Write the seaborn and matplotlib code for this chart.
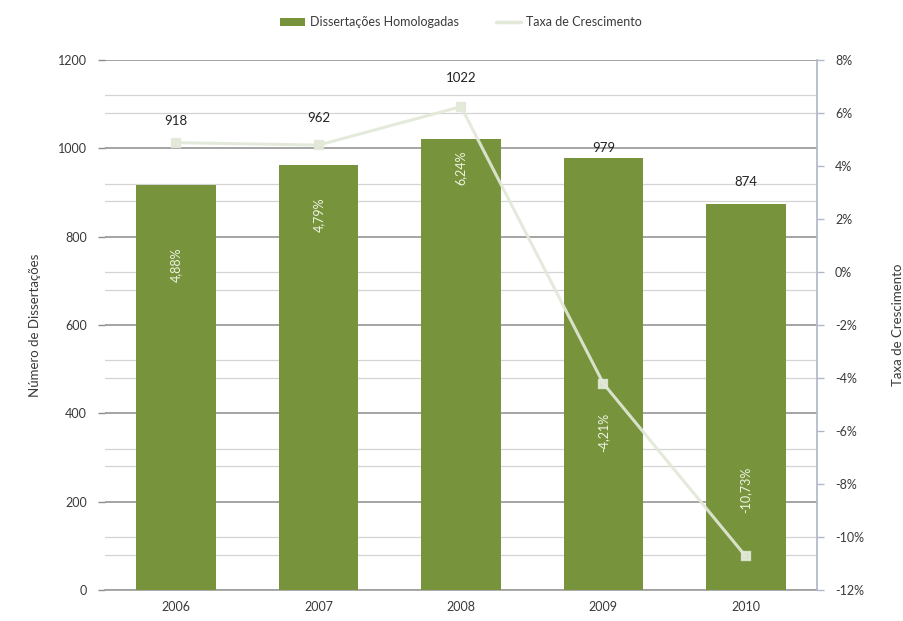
import matplotlib
matplotlib.use("Agg")
import matplotlib.pyplot as plt
import seaborn as sns
import pandas as pd
from matplotlib.patches import Patch
from matplotlib.lines import Line2D
from matplotlib.ticker import FixedLocator, FuncFormatter

# ---- data ----
years = ["2006", "2007", "2008", "2009", "2010"]
dissertacoes = [918, 962, 1022, 979, 874]
taxa = [4.88, 4.79, 6.24, -4.21, -10.73]
left_ticks = [0, 200, 400, 600, 800, 1000, 1200]
right_ticks = [-12, -10, -8, -6, -4, -2, 0, 2, 4, 6, 8]

# ---- styling ----
GREEN = "#77933C"
LINE = "#E2E9D8"
GRID_DARK = "#8C8C8C"
GRID_LIGHT = "#D4D4D4"
TXT = "#3A3A3A"
# label offsets (points) – layout only
bar_label_off = [46, 34, 44, 7, 16]
taxa_label_off = [-88, -50, -44, -35, 48]

sns.set_theme(style="white")
plt.rcParams["font.family"] = ["Lato", "DejaVu Sans"]

df = pd.DataFrame({"ano": years, "n": dissertacoes, "taxa": taxa})

fig = plt.figure(figsize=(9.04, 6.21), dpi=100)
ax = fig.add_axes([105 / 904, 31 / 621, (817 - 105) / 904, (590 - 60) / 621])

sns.barplot(data=df, x="ano", y="n", ax=ax, color=GREEN, width=0.56,
            saturation=1, edgecolor="none", zorder=3)
ax.set_ylim(0, 1200)
ax.set_xlim(-0.5, len(years) - 0.5)
ax.yaxis.set_major_locator(FixedLocator(left_ticks))
minor_vals = [v for t in left_ticks[:-1] for v in (t + 80, t + 120)]
ax.yaxis.set_minor_locator(FixedLocator(minor_vals))
ax.grid(axis="y", which="major", color=GRID_DARK, lw=1.1, zorder=0)
ax.grid(axis="y", which="minor", color=GRID_LIGHT, lw=0.9, zorder=0)
ax.grid(axis="x", visible=False)
ax.set_axisbelow(True)
ax.set_xlabel("")
ax.set_ylabel("Número de Dissertações", fontsize=9.5, color=TXT, labelpad=12)
ax.tick_params(axis="y", which="major", direction="out", length=5, width=1,
               color=GRID_DARK, labelsize=9, labelcolor=TXT, left=True, pad=8)
ax.tick_params(axis="y", which="minor", length=0)
ax.tick_params(axis="x", length=0, labelsize=9, labelcolor=TXT, pad=8)
# category boundary tick marks on x axis
ax.set_xticks([i + 0.5 for i in range(len(years) - 1)], minor=True)
ax.tick_params(axis="x", which="minor", direction="out", length=4, color="#A0A0A0")
for s in ["top", "right", "left"]:
    ax.spines[s].set_visible(False)
ax.spines["bottom"].set_color("#A0A0A0")

for i, (v, off) in enumerate(zip(dissertacoes, bar_label_off)):
    ax.annotate(f"{v}", (i, v), xytext=(0, off), textcoords="offset points",
                ha="center", va="center", fontsize=9.5, color="#222222", zorder=6)

ax2 = ax.twinx()
sns.pointplot(data=df, x="ano", y="taxa", ax=ax2, color=LINE, markers="s",
              markersize=5.5, linewidth=2.2, alpha=0.92, zorder=5)
ax2.set_ylim(-12, 8)
ax2.set_xlim(-0.5, len(years) - 0.5)
ax2.yaxis.set_major_locator(FixedLocator(right_ticks))
ax2.yaxis.set_major_formatter(FuncFormatter(lambda v, p: f"{v:.0f}%"))
ax2.grid(False)
ax2.set_ylabel("Taxa de Crescimento", fontsize=9.5, color=TXT, labelpad=20)
ax2.yaxis.set_label_position("right")
ax2.tick_params(axis="y", direction="out", length=5, width=1, color="#B0B8C8",
                labelsize=9, labelcolor=TXT, right=True, pad=8)
for s in ["top", "left", "bottom"]:
    ax2.spines[s].set_visible(False)
ax2.spines["right"].set_color("#B0B8C8")

for i, (v, off) in enumerate(zip(taxa, taxa_label_off)):
    ax2.annotate(f"{v:.2f}%".replace(".", ","), (i, v), xytext=(0, off),
                 textcoords="offset points", ha="center", va="center",
                 rotation=90, fontsize=9, color="#EEF4E2", zorder=6)

handles = [Patch(facecolor=GREEN, edgecolor="none"),
           Line2D([0], [0], color=LINE, lw=2.5)]
fig.legend(handles, ["Dissertações Homologadas", "Taxa de Crescimento"],
           loc="center", bbox_to_anchor=(461 / 904, 1 - 22 / 621), ncol=2,
           frameon=False, fontsize=9, handlelength=2.0, handleheight=0.6,
           columnspacing=3.0, handletextpad=0.4, labelcolor=TXT)

fig.savefig("out.png", dpi=100)
